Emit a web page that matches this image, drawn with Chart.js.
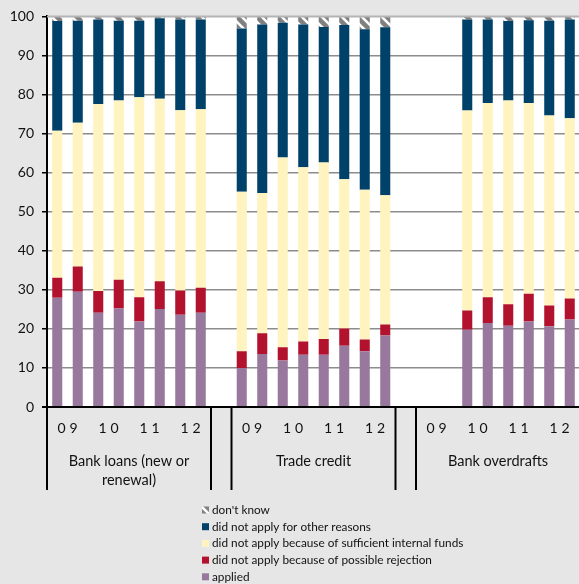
<!DOCTYPE html>
<html>
<head>
<meta charset="utf-8">
<script src="https://cdn.jsdelivr.net/npm/chart.js@4"></script>
<style>
  html, body { margin: 0; padding: 0; background: #e6e6e6; overflow: hidden; }
  #wrap { width: 580px; height: 584px; }
</style>
</head>
<body>
<div id="wrap"><canvas id="c" width="580" height="584"></canvas></div>
<script>
// ---- data ----
const groups = ["Bank loans (new or|renewal)", "Trade credit", "Bank overdrafts"];
const years = ["09", "10", "11", "12"];
// 26 slots: 8 per group, one empty gap slot between groups
const categories = [
  "BL 09a","BL 09b","BL 10a","BL 10b","BL 11a","BL 11b","BL 12a","BL 12b","",
  "TC 09a","TC 09b","TC 10a","TC 10b","TC 11a","TC 11b","TC 12a","TC 12b","",
  "BO 09a","BO 09b","BO 10a","BO 10b","BO 11a","BO 11b","BO 12a","BO 12b"
];
const applied = [28.0,29.5,24.1,25.2,21.9,25.1,23.6,24.1, null,
                 10.0,13.6,11.9,13.4,13.4,15.7,14.3,18.3, null,
                 null,null,19.8,21.5,20.8,21.9,20.7,22.4];
const rejection = [5.1,6.5,5.6,7.4,6.2,7.1,6.2,6.4, null,
                   4.3,5.3,3.4,3.4,4.0,4.4,3.0,2.8, null,
                   null,null,4.9,6.6,5.5,7.1,5.3,5.4];
const internalFunds = [37.6,36.8,47.9,45.9,51.2,46.7,46.2,45.7, null,
                       40.8,35.9,48.6,44.6,45.2,38.2,38.3,33.1, null,
                       null,null,51.2,49.7,52.2,48.8,48.6,46.1];
const otherReasons = [28.1,26.1,21.6,20.4,19.6,20.6,23.2,23.0, null,
                      41.8,43.1,34.5,36.5,34.7,39.5,41.1,43.0, null,
                      null,null,23.3,21.4,20.3,21.2,24.3,25.3];
const dontKnow = [1.2,1.1,0.8,1.1,1.1,0.5,0.8,0.8, null,
                  3.1,2.1,1.6,2.1,2.7,2.2,3.3,2.8, null,
                  null,null,0.8,0.8,1.2,1.0,1.1,0.8];
const yTicks = [0,10,20,30,40,50,60,70,80,90,100];

// ---- pattern for "don't know" ----
function makePattern() {
  const p = document.createElement('canvas');
  p.width = 10; p.height = 10;
  const g = p.getContext('2d');
  g.fillStyle = '#ffffff'; g.fillRect(0,0,10,10);
  g.strokeStyle = '#808080'; g.lineWidth = 4.5;
  g.beginPath(); g.moveTo(-2,-2); g.lineTo(12,12); g.stroke();
  g.beginPath(); g.moveTo(-2,8); g.lineTo(2,12); g.stroke();
  g.beginPath(); g.moveTo(8,-2); g.lineTo(12,2); g.stroke();
  return g.createPattern(p, 'repeat');
}
const ctx0 = document.getElementById('c').getContext('2d');
const dkPattern = makePattern();

const FONT = 'Lato, "Open Sans", sans-serif';

const customPlugin = {
  id: 'custom',
  beforeDraw(chart) {
    const {ctx, chartArea: a} = chart;
    ctx.save();
    ctx.fillStyle = '#e6e6e6';
    ctx.fillRect(0, 0, chart.width, chart.height);
    ctx.fillStyle = '#ffffff';
    ctx.fillRect(a.left, a.top, a.right - a.left, a.bottom - a.top);
    ctx.restore();
  },
  afterDraw(chart) {
    const {ctx, chartArea: a} = chart;
    const x = chart.scales.x;
    const px = i => x.getPixelForValue(i);
    const bnd = i => (px(i) + px(i + 1)) / 2;
    const bottomY = 490;
    ctx.save();
    // top border
    ctx.strokeStyle = '#b4b4b4'; ctx.lineWidth = 2;
    ctx.beginPath(); ctx.moveTo(a.left, a.top); ctx.lineTo(a.right, a.top); ctx.stroke();
    // x axis line
    ctx.strokeStyle = '#000'; ctx.lineWidth = 2;
    ctx.beginPath(); ctx.moveTo(a.left - 5, a.bottom); ctx.lineTo(a.right, a.bottom); ctx.stroke();
    // left axis extension & separators
    const seps = [a.left, bnd(7), bnd(8), bnd(16), bnd(17)];
    seps.forEach(s => {
      ctx.beginPath(); ctx.moveTo(s, a.bottom); ctx.lineTo(s, bottomY); ctx.stroke();
    });
    // year labels
    ctx.fillStyle = '#111';
    ctx.font = '14px ' + FONT;
    ctx.textAlign = 'center'; ctx.textBaseline = 'middle';
    if ('letterSpacing' in ctx) ctx.letterSpacing = '4px';
    const starts = [0, 9, 18];
    starts.forEach(s => {
      years.forEach((yr, k) => {
        const cx = (px(s + 2*k) + px(s + 2*k + 1)) / 2;
        ctx.fillText(yr, cx + 2, 428);
      });
    });
    if ('letterSpacing' in ctx) ctx.letterSpacing = '0px';
    // group labels
    ctx.font = '14.5px ' + FONT;
    const gBounds = [[a.left, bnd(7)], [bnd(8), bnd(16)], [bnd(17), a.right]];
    groups.forEach((g, i) => {
      const cx = (gBounds[i][0] + gBounds[i][1]) / 2;
      g.split('|').forEach((line, j) => ctx.fillText(line, cx, 461 + j * 19));
    });
    // legend
    const ds = chart.data.datasets.slice().reverse();
    ctx.font = '11.8px ' + FONT;
    ctx.textAlign = 'left';
    ds.forEach((d, i) => {
      const yy = 510 + i * 16.7;
      ctx.fillStyle = d.backgroundColor;
      ctx.fillRect(202, yy - 3.5, 7, 7);
      ctx.fillStyle = '#111';
      ctx.fillText(d.label, 212, yy);
    });
    ctx.restore();
  }
};

new Chart(ctx0, {
  type: 'bar',
  data: {
    labels: categories,
    datasets: [
      { label: 'applied', data: applied, backgroundColor: '#98789c' },
      { label: 'did not apply because of possible rejection', data: rejection, backgroundColor: '#b3122e' },
      { label: 'did not apply because of sufficient internal funds', data: internalFunds, backgroundColor: '#fff3bf' },
      { label: 'did not apply for other reasons', data: otherReasons, backgroundColor: '#00416a' },
      { label: "don't know", data: dontKnow, backgroundColor: dkPattern }
    ]
  },
  options: {
    responsive: false,
    animation: false,
    events: [],
    layout: { padding: { top: 15, right: 0, bottom: 177, left: 0 } },
    datasets: { bar: { categoryPercentage: 1.0, barPercentage: 0.49, borderWidth: 0 } },
    plugins: { legend: { display: false }, tooltip: { enabled: false } },
    scales: {
      x: { stacked: true, display: false },
      y: {
        stacked: true, min: 0, max: 100,
        afterFit(s) { s.width = 47; },
        afterBuildTicks(s) { s.ticks = yTicks.map(v => ({ value: v })); },
        ticks: { color: '#111', font: { family: FONT, size: 14 }, padding: 8 },
        grid: {
          color: c => c.tick && c.tick.value === 100 ? 'rgba(0,0,0,0)' : '#8c8c8c',
          lineWidth: 1.5, tickColor: '#000', tickLength: 5
        },
        border: { display: true, color: '#000', width: 2 }
      }
    }
  },
  plugins: [customPlugin]
});
</script>
</body>
</html>
